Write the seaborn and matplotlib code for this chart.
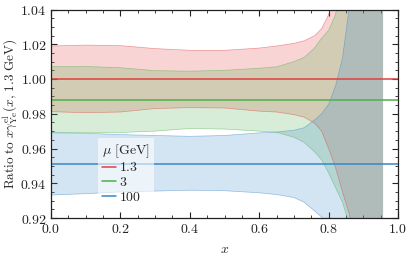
import numpy as np
import pandas as pd
import matplotlib
matplotlib.use("Agg")
import matplotlib.pyplot as plt
import seaborn as sns
from matplotlib.ticker import MultipleLocator, FormatStrFormatter

# ---- data ----
mu_labels = ["1.3", "3", "100"]
x_grid = [0.0, 0.1, 0.2, 0.3, 0.4, 0.5, 0.6, 0.65, 0.7, 0.73, 0.76, 0.78,
          0.80, 0.82, 0.84, 0.86, 0.88, 0.90, 0.957]
center = [1.0, 0.9877, 0.951]
x_line = [0.0, 1.0]

up_13 = [1.019, 1.0195, 1.0192, 1.0175, 1.0165, 1.0165, 1.0178, 1.019, 1.0205,
         1.022, 1.025, 1.029, 1.037, 1.05, 1.08, 1.12, 1.2, 1.2, 1.2]
lo_13 = [0.9812, 0.9806, 0.981, 0.983, 0.9835, 0.9833, 0.9815, 0.981, 0.9795,
         0.978, 0.9745, 0.970, 0.960, 0.949, 0.935, 0.922, 0.90, 0.85, 0.8]
up_3 = [1.0071, 1.0072, 1.0065, 1.0048, 1.0045, 1.005, 1.0062, 1.007, 1.010,
        1.0125, 1.018, 1.0235, 1.028, 1.037, 1.06, 1.09, 1.2, 1.2, 1.2]
lo_3 = [0.9693, 0.9693, 0.9692, 0.970, 0.9715, 0.9712, 0.970, 0.9693, 0.9665,
        0.9635, 0.958, 0.9535, 0.946, 0.9375, 0.929, 0.916, 0.90, 0.85, 0.8]
up_100 = [0.969, 0.9688, 0.968, 0.9675, 0.967, 0.9675, 0.969, 0.9695, 0.9705,
          0.972, 0.9765, 0.980, 0.9855, 0.996, 1.012, 1.042, 1.1, 1.2, 1.2]
lo_100 = [0.9332, 0.934, 0.935, 0.9355, 0.936, 0.9357, 0.9345, 0.9335, 0.9318,
          0.929, 0.924, 0.9205, 0.915, 0.89, 0.86, 0.83, 0.8, 0.8, 0.8]

uppers = [up_13, up_3, up_100]
lowers = [lo_13, lo_3, lo_100]
colors = ["#e0403f", "#4daf4a", "#3a86c8"]

# ---- style ----
sns.set_style("ticks")
plt.rcParams["mathtext.fontset"] = "cm"
plt.rcParams["font.family"] = ["DejaVu Serif"]
plt.rcParams["font.size"] = 9

fig = plt.figure(figsize=(4.07, 2.64), dpi=100)
ax = fig.add_axes([51 / 407, 1 - 218 / 264, 347 / 407, 208.5 / 264])

for up, lo, c in zip(uppers, lowers, colors):
    ax.fill_between(x_grid, lo, up, color=c, alpha=0.22, lw=0)
    ax.plot(x_grid, up, color=c, lw=0.5, alpha=0.5)
    ax.plot(x_grid, lo, color=c, lw=0.5, alpha=0.5)

rows = []
for lab, cval in zip(mu_labels, center):
    for xv in x_line:
        rows.append({"x": xv, "ratio": cval, "mu": lab})
df = pd.DataFrame(rows)
sns.lineplot(data=df, x="x", y="ratio", hue="mu", palette=colors,
             hue_order=mu_labels, lw=1.1, ax=ax)

ax.set_xlim(0, 1)
ax.set_ylim(0.92, 1.04)
ax.xaxis.set_major_locator(MultipleLocator(0.2))
ax.xaxis.set_minor_locator(MultipleLocator(0.05))
ax.yaxis.set_major_locator(MultipleLocator(0.02))
ax.yaxis.set_minor_locator(MultipleLocator(0.005))
ax.xaxis.set_major_formatter(FormatStrFormatter(r"$%.1f$"))
ax.yaxis.set_major_formatter(FormatStrFormatter(r"$%.2f$"))
ax.tick_params(which="both", direction="in", top=True, right=True,
               colors="#222222", labelsize=10, pad=3)
ax.tick_params(which="major", length=4, width=0.8)
ax.tick_params(which="minor", length=2, width=0.6)
for s in ax.spines.values():
    s.set_linewidth(0.9)
    s.set_color("#222222")

ax.set_xlabel(r"$x$", fontsize=10, labelpad=4)
ax.set_ylabel(r"$\mathrm{Ratio\ to}\ x\gamma^{\mathrm{el}}_{\mathrm{Ye}}(x,\,1.3\ \mathrm{GeV})$",
              fontsize=9.5, labelpad=1)

handles, labels = ax.get_legend_handles_labels()
leg = ax.legend(handles, [r"$%s$" % l for l in labels],
                title=r"$\mu\ [\mathrm{GeV}]$", loc="lower left",
                bbox_to_anchor=(0.115, 0.015), frameon=True, fontsize=10,
                title_fontsize=10, handlelength=1.0, handletextpad=0.2,
                borderpad=0.3, labelspacing=0.05, fancybox=False)
leg.get_frame().set_facecolor("white")
leg.get_frame().set_alpha(0.6)
leg.get_frame().set_edgecolor("none")
leg._legend_box.align = "left"

fig.savefig("out.png", dpi=100)
